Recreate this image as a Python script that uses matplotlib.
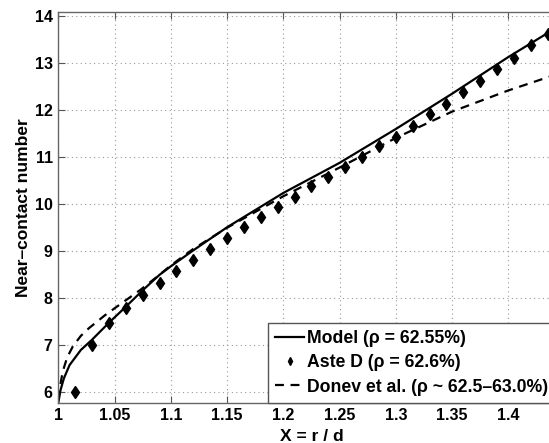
import matplotlib
matplotlib.use('Agg')
import matplotlib.pyplot as plt

plt.rcParams['font.family'] = ['Liberation Sans', 'DejaVu Sans']
plt.rcParams['font.weight'] = 'bold'
plt.rcParams['axes.labelweight'] = 'bold'

# model curve
model_x = [1.0, 1.002, 1.005, 1.01, 1.02, 1.03, 1.045, 1.06, 1.075, 1.09, 1.1,
           1.12, 1.15, 1.2, 1.25, 1.3, 1.35, 1.4, 1.45]
model_y = [5.78, 6.05, 6.30, 6.58, 6.90, 7.12, 7.48, 7.82, 8.17, 8.50, 8.68,
           9.02, 9.51, 10.24, 10.88, 11.60, 12.35, 13.13, 13.86]

# Aste D simulation points
aste_x = [1.015, 1.03, 1.045, 1.06, 1.075, 1.09, 1.105, 1.12, 1.135, 1.15,
          1.165, 1.18, 1.195, 1.21, 1.225, 1.24, 1.255, 1.27, 1.285, 1.30,
          1.315, 1.33, 1.345, 1.36, 1.375, 1.39, 1.405, 1.42, 1.435]
aste_y = [6.0, 7.0, 7.47, 7.79, 8.07, 8.33, 8.58, 8.82, 9.05, 9.28,
          9.51, 9.73, 9.94, 10.15, 10.38, 10.58, 10.80, 11.01, 11.23, 11.44,
          11.67, 11.91, 12.13, 12.39, 12.62, 12.88, 13.12, 13.38, 13.63]

# Donev et al. curve
donev_x = [1.0, 1.0015, 1.004, 1.008, 1.013, 1.02, 1.027, 1.0415, 1.056, 1.073,
           1.09, 1.1, 1.12, 1.15, 1.2, 1.25, 1.3, 1.35, 1.4, 1.45]
donev_y = [5.85, 6.12, 6.45, 6.75, 6.98, 7.20, 7.36, 7.64, 7.89, 8.18,
           8.50, 8.70, 9.05, 9.50, 10.17, 10.78, 11.41, 11.97, 12.42, 12.82]

fig = plt.figure(figsize=(5.49, 4.43), dpi=100)
ax = fig.add_axes([0.1062, 0.091, 0.922, 0.882])

ax.plot(model_x, model_y, color='black', lw=1.6, label='Model (\u03c1 = 62.55%)')
ax.plot(aste_x, aste_y, linestyle='none', marker='d', color='black',
        markersize=6, label='Aste D (\u03c1 = 62.6%)')
ax.plot(donev_x, donev_y, color='black', lw=1.6, linestyle=(0, (4, 3)),
        label='Donev et al. (\u03c1 ~ 62.5\u201363.0%)')

ax.set_xlim(1, 1.45)
ax.set_ylim(5.78, 14.09)
ax.set_xticks([1, 1.05, 1.1, 1.15, 1.2, 1.25, 1.3, 1.35, 1.4])
ax.set_xticklabels(['1', '1.05', '1.1', '1.15', '1.2', '1.25', '1.3', '1.35', '1.4'])
ax.set_yticks([6, 7, 8, 9, 10, 11, 12, 13, 14])

ax.grid(True, linestyle=(0, (1, 3)), color='#999999', lw=0.8)
ax.tick_params(direction='in', top=True, right=True, length=5, labelsize=11.5,
               color='#555555', pad=4)
for s in ax.spines.values():
    s.set_color('#666666')
    s.set_linewidth(1.0)

ax.set_xlabel('X = r / d', fontsize=12.5, labelpad=4)
ax.set_ylabel('Near\u2013contact number', fontsize=12.5, labelpad=3)

leg = ax.legend(loc='lower left', bbox_to_anchor=(0.415, 0.0), fontsize=12.7,
                fancybox=False, edgecolor='#555555', framealpha=1,
                handlelength=1.6, handletextpad=0.2, borderpad=0.4,
                labelspacing=0.42, borderaxespad=0, markerscale=0.65)
leg.get_frame().set_linewidth(1.0)

fig.savefig('out.png', dpi=100)
